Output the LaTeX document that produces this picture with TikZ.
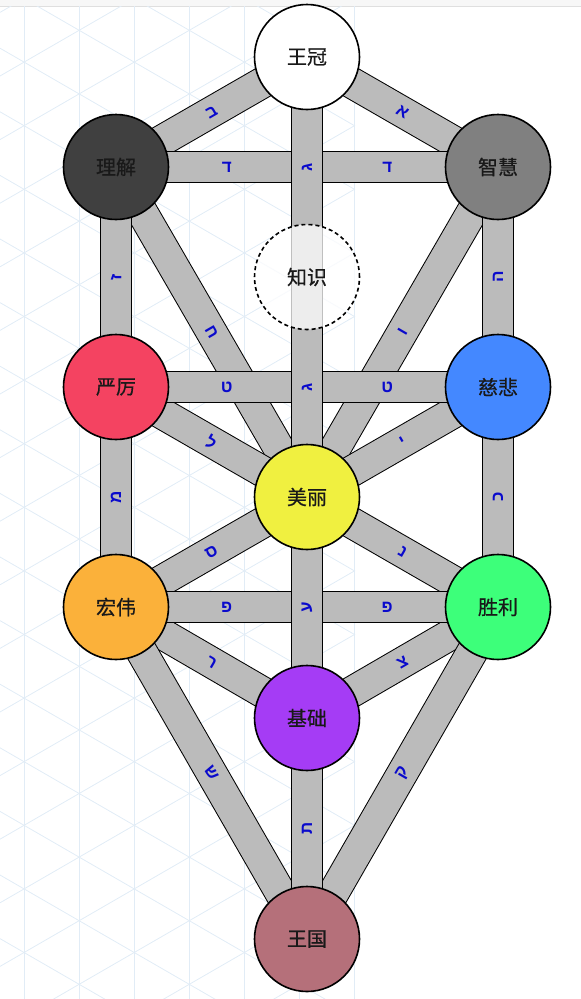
\documentclass[tikz,border=0pt]{standalone}
\usepackage{fontspec}
\usepackage{tikz}
\usepackage{xcolor}
\newfontfamily\cjk[FakeBold=0.6]{Noto Sans CJK SC}
\newfontfamily\hebfont[Script=Hebrew]{Liberation Sans}
\TeXXeTstate=1
\newcommand{\heb}[1]{{\hebfont\bfseries\beginR #1\endR}}

\definecolor{gridblue}{HTML}{E1ECF6}
\definecolor{topgray}{HTML}{F7F7F7}
\definecolor{pathgray}{HTML}{BBBBBB}
\definecolor{letterblue}{HTML}{0A0ACC}
\definecolor{binahc}{HTML}{404040}
\definecolor{chokmahc}{HTML}{808080}
\definecolor{geburahc}{HTML}{F44361}
\definecolor{chesedc}{HTML}{4488FF}
\definecolor{tipharethc}{HTML}{F0F040}
\definecolor{hodc}{HTML}{FBB13A}
\definecolor{netzachc}{HTML}{3DFF7A}
\definecolor{yesodc}{HTML}{A53CF5}
\definecolor{malkuthc}{HTML}{B5707A}

\pgfdeclarelayer{gridlayer}
\pgfdeclarelayer{pathlayer}
\pgfsetlayers{gridlayer,pathlayer,main}

\tikzset{
  sephirah/.style={circle, draw=black, line width=1.6pt, minimum size=105pt, inner sep=0pt,
    font=\cjk\fontsize{20}{20}\selectfont, text=black!90},
  pathband/.style={draw=black, line width=1pt, double=pathgray, double distance=30pt},
  letter/.style={font=\fontsize{17}{17}\selectfont, text=letterblue, inner sep=0pt},
  gridline/.style={gridblue, line width=.8pt}
}

\begin{document}
\begin{tikzpicture}[x=1pt,y=-1pt]
\useasboundingbox (0,0) rectangle (581,999);

\node[sephirah, fill=white]      (kether)    at (307,57)  {王冠};
\node[sephirah, fill=binahc]     (binah)     at (116,167) {理解};
\node[sephirah, fill=chokmahc]   (chokmah)   at (498,167) {智慧};
\node[sephirah, fill=white, fill opacity=.75, text opacity=1,
      dash pattern=on 4pt off 3pt] (daath)   at (307,277) {知识};
\node[sephirah, fill=geburahc]   (geburah)   at (116,387) {严厉};
\node[sephirah, fill=chesedc]    (chesed)    at (498,387) {慈悲};
\node[sephirah, fill=tipharethc] (tiphareth) at (307,497) {美丽};
\node[sephirah, fill=hodc]       (hod)       at (116,607) {宏伟};
\node[sephirah, fill=netzachc]   (netzach)   at (498,607) {胜利};
\node[sephirah, fill=yesodc]     (yesod)     at (307,718) {基础};
\node[sephirah, fill=malkuthc]   (malkuth)   at (307,939) {王国};

\begin{pgfonlayer}{gridlayer}
  \fill[topgray] (0,0) rectangle (581,6);
  \draw[gray!25] (0,6) -- (581,6);
  \begin{scope}
    \clip (0,6) rectangle (356,999);
    \foreach \i in {0,...,6}
      \draw[gridline] (24+55.1*\i,6) -- ++(0,993);
    \foreach \k in {-4,...,19} {
      \draw[gridline] (0,48.2+63.6*\k) -- ++(355,205);
      \draw[gridline] (0,12.4+63.6*\k) -- ++(355,-205);
    }
  \end{scope}
\end{pgfonlayer}

\begin{pgfonlayer}{pathlayer}
  % diagonals
  \draw[pathband] (binah.center) -- node[letter,sloped] {\heb{ב}} (kether.center);
  \draw[pathband] (kether.center) -- node[letter,sloped] {\heb{א}} (chokmah.center);
  \draw[pathband] (binah.center) -- node[letter,sloped] {\heb{ח}} (tiphareth.center);
  \draw[pathband] (tiphareth.center) -- node[letter,sloped] {\heb{ו}} (chokmah.center);
  \draw[pathband] (geburah.center) -- node[letter,sloped] {\heb{ל}} (tiphareth.center);
  \draw[pathband] (tiphareth.center) -- node[letter,sloped] {\heb{י}} (chesed.center);
  \draw[pathband] (hod.center) -- node[letter,sloped] {\heb{ס}} (tiphareth.center);
  \draw[pathband] (tiphareth.center) -- node[letter,sloped] {\heb{נ}} (netzach.center);
  \draw[pathband] (hod.center) -- node[letter,sloped] {\heb{ר}} (yesod.center);
  \draw[pathband] (yesod.center) -- node[letter,sloped] {\heb{צ}} (netzach.center);
  \draw[pathband] (hod.center) -- node[letter,sloped] {\heb{ש}} (malkuth.center);
  \draw[pathband] (malkuth.center) -- node[letter,sloped] {\heb{ק}} (netzach.center);
  % horizontals
  \draw[pathband] (binah.center) -- node[letter,pos=.29] {\heb{ד}} node[letter,pos=.71] {\heb{ד}} (chokmah.center);
  \draw[pathband] (geburah.center) -- node[letter,pos=.29] {\heb{ט}} node[letter,pos=.71] {\heb{ט}} (chesed.center);
  \draw[pathband] (hod.center) -- node[letter,pos=.29] {\heb{פ}} node[letter,pos=.71] {\heb{פ}} (netzach.center);
  % verticals
  \draw[pathband] (binah.center) -- node[letter,rotate=90] {\heb{ז}} (geburah.center);
  \draw[pathband] (geburah.center) -- node[letter,rotate=90] {\heb{מ}} (hod.center);
  \draw[pathband] (chokmah.center) -- node[letter,rotate=90] {\heb{ה}} (chesed.center);
  \draw[pathband] (chesed.center) -- node[letter,rotate=90] {\heb{כ}} (netzach.center);
  \draw[pathband] (kether.center) -- node[letter,rotate=90] {\heb{ג}} (daath.center)
    -- node[letter,rotate=90] {\heb{ג}} (tiphareth.center)
    -- node[letter,rotate=90] {\heb{ע}} (yesod.center)
    -- node[letter,rotate=90] {\heb{ת}} (malkuth.center);
\end{pgfonlayer}
\end{tikzpicture}
\end{document}
